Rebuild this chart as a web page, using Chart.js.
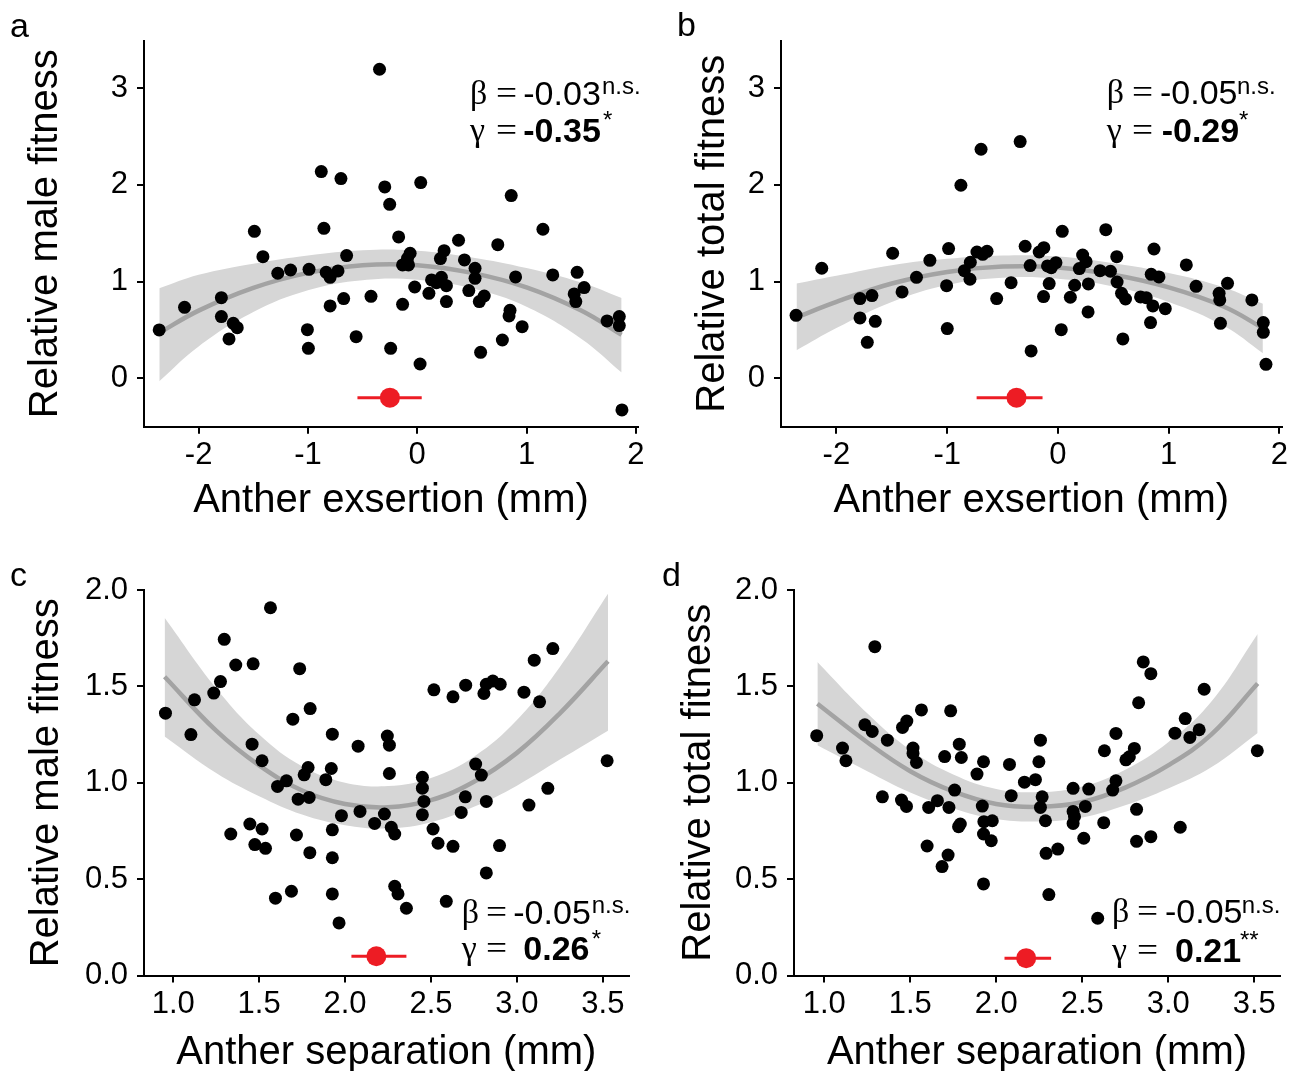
<!DOCTYPE html>
<html>
<head>
<meta charset="utf-8">
<script src="https://cdn.jsdelivr.net/npm/chart.js@4.4.1/dist/chart.umd.min.js"></script>
<style>
  html, body { margin: 0; padding: 0; background: #fff; }
  body { width: 1295px; height: 1071px; overflow: hidden; position: relative; font-family: 'Liberation Sans', Arial, sans-serif; color: #000; }
  canvas { position: absolute; }
  .t { position: absolute; white-space: nowrap; line-height: 1; }
</style>
</head>
<body>
<canvas id="ca"></canvas>
<canvas id="cb"></canvas>
<canvas id="cc"></canvas>
<canvas id="cd"></canvas>
<div id="overlay"></div>
<script>
// ---------------- DATA ----------------
// Panel a: anther exsertion vs relative male fitness
const aX = [-0.345,-0.878,-0.698,-0.297,0.032,-0.252,0.860,-0.854,1.150,-1.490,
  -0.170,0.378,0.737,-1.412,-0.646,-0.065,-0.089,-0.134,-0.080,0.246,
  0.212,0.432,-1.276,-1.159,-0.990,-0.833,-0.797,-0.725,0.529,0.529,
  0.900,1.240,1.463,0.131,0.221,0.176,0.267,-0.023,0.107,0.472,
  0.613,0.568,0.267,1.527,1.436,1.451,-1.792,-2.129,-0.673,-0.423,
  -0.797,-0.134,-1.792,-1.683,-1.647,-2.361,-1.722,-1.005,-0.996,-0.559,
  -0.243,0.026,0.849,0.840,0.960,0.779,0.580,1.737,1.849,1.849,1.873];
const aY = [3.195,2.137,2.065,1.979,2.023,1.799,1.889,1.551,1.541,1.520,
  1.462,1.427,1.382,1.258,1.269,1.293,1.241,1.172,1.172,1.320,
  1.238,1.224,1.086,1.120,1.127,1.096,1.044,1.110,1.138,1.034,
  1.048,1.069,1.096,1.017,1.044,0.989,0.958,0.944,0.879,0.907,
  0.851,0.793,0.793,0.938,0.872,0.793,0.834,0.734,0.824,0.848,
  0.748,0.765,0.638,0.569,0.524,0.500,0.407,0.503,0.310,0.431,
  0.310,0.148,0.703,0.645,0.534,0.396,0.269,0.593,0.638,0.545,-0.327];
const aFitX  = [-2.36,-2.0,-1.5,-1.0,-0.5,0.0,0.5,1.0,1.5,1.87];
const aFit   = [0.47,0.70,0.935,1.09,1.17,1.17,1.09,0.94,0.70,0.45];
const aUpper = [0.93,1.07,1.185,1.27,1.325,1.32,1.25,1.14,0.99,0.83];
const aLower = [-0.03,0.33,0.685,0.91,1.015,1.02,0.93,0.74,0.41,0.06];
const aOpt = [-0.25, -0.547, 0.041, -0.2];   // optimum, CI low, CI high, drawn at y
const aXTicks = [-2,-1,0,1,2], aXTickLabels = ['-2','-1','0','1','2'];
const aYTicks = [0,1,2,3],     aYTickLabels = ['0','1','2','3'];

// Panel b: anther exsertion vs relative total fitness
const bX = [-0.341,-0.694,-0.876,0.039,0.432,-2.132,-1.492,-0.987,-0.731,-0.640,
  -0.679,-0.296,-0.169,-0.127,0.867,0.531,1.159,-1.156,-0.791,-0.845,
  -0.251,-0.094,-0.018,-0.060,0.223,0.254,0.193,0.380,0.474,-1.277,
  -0.794,-1.005,-0.423,-0.079,0.151,0.275,0.534,0.842,0.912,1.247,
  1.531,1.455,1.461,1.751,-1.407,-1.679,-1.787,-2.364,-1.787,-1.649,
  -1.721,-0.553,-0.130,0.112,0.574,0.610,0.746,0.797,0.857,0.969,
  0.272,-0.999,0.030,0.586,0.836,1.467,-0.242,1.854,1.854,1.878];
const bY = [2.447,2.368,1.996,1.520,1.537,1.138,1.293,1.341,1.306,1.313,
  1.282,1.365,1.306,1.351,1.337,1.258,1.172,1.220,1.200,1.113,
  1.165,1.162,1.196,1.144,1.275,1.206,1.134,1.113,1.107,1.044,
  1.024,0.958,0.989,0.979,0.962,0.976,0.996,1.075,1.048,0.951,
  0.982,0.879,0.810,0.810,0.893,0.855,0.824,0.651,0.624,0.589,
  0.372,0.824,0.845,0.838,0.879,0.820,0.841,0.834,0.748,0.720,
  0.686,0.514,0.503,0.407,0.576,0.569,0.283,0.576,0.476,0.145];
const bFitX  = [-2.36,-2.0,-1.5,-1.0,-0.5,0.0,0.5,1.0,1.5,1.85];
const bFit   = [0.63,0.79,0.98,1.10,1.155,1.145,1.07,0.94,0.74,0.52];
const bUpper = [0.98,1.06,1.17,1.235,1.27,1.26,1.19,1.09,0.94,0.77];
const bLower = [0.29,0.52,0.79,0.965,1.04,1.03,0.95,0.79,0.54,0.26];
const bOpt = [-0.374, -0.734, -0.139, -0.2];
const bXTicks = [-2,-1,0,1,2], bXTickLabels = ['-2','-1','0','1','2'];
const bYTicks = [0,1,2,3],     bYTickLabels = ['0','1','2','3'];

// Panel c: anther separation vs relative male fitness
const cX = [1.566,1.297,1.364,1.465,1.736,1.275,1.236,1.124,0.955,1.103,
  1.696,1.797,1.926,2.076,2.246,2.258,1.459,1.517,1.785,1.762,
  1.920,1.888,2.258,1.659,1.607,1.727,1.791,1.979,2.087,2.172,
  2.229,2.269,2.289,2.450,2.450,2.459,2.450,2.512,2.541,2.628,
  2.676,2.700,2.760,2.793,2.822,2.899,2.822,3.070,3.180,3.525,
  2.517,2.628,2.702,2.808,2.822,2.860,2.903,3.041,3.132,3.101,
  3.209,1.446,1.517,1.335,1.475,1.537,1.717,1.926,1.795,1.926,
  1.595,1.688,1.926,1.965,2.289,2.308,2.357,2.589];
const cY = [1.908,1.744,1.611,1.617,1.592,1.525,1.465,1.430,1.361,1.250,
  1.330,1.385,1.252,1.190,1.242,1.195,1.200,1.114,1.079,1.041,
  1.074,1.016,1.048,1.010,0.981,0.915,0.924,0.829,0.851,0.789,
  0.838,0.769,0.734,1.028,0.972,0.903,0.834,0.760,0.686,0.670,
  0.846,0.927,1.097,1.040,0.903,0.674,0.532,0.884,0.971,1.114,
  1.482,1.446,1.506,1.463,1.511,1.528,1.511,1.470,1.420,1.636,
  1.696,0.786,0.760,0.734,0.679,0.660,0.729,0.756,0.637,0.611,
  0.401,0.437,0.423,0.273,0.463,0.423,0.349,0.385];
const cFitX  = [0.95,1.25,1.5,1.75,2.0,2.25,2.5,2.75,3.0,3.25,3.53];
const cFit   = [1.55,1.27,1.09,0.96,0.89,0.873,0.91,1.005,1.155,1.36,1.63];
const cUpper = [1.856,1.49,1.25,1.085,1.0,0.983,1.025,1.135,1.325,1.60,1.98];
const cLower = [1.24,1.05,0.93,0.835,0.78,0.763,0.795,0.875,0.985,1.12,1.27];
const cOpt = [2.182, 2.037, 2.357, 0.10];
const cXTicks = [1.0,1.5,2.0,2.5,3.0,3.5], cXTickLabels = ['1.0','1.5','2.0','2.5','3.0','3.5'];
const cYTicks = [0,0.5,1.0,1.5,2.0],       cYTickLabels = ['0.0','0.5','1.0','1.5','2.0'];

// Panel d: anther separation vs relative total fitness
const dX = [1.294,2.855,2.899,3.209,2.828,1.565,1.735,1.480,1.455,1.236,
  1.279,0.956,1.367,2.257,2.696,3.039,3.099,3.180,3.126,3.518,
  1.106,1.126,1.516,1.516,1.536,1.700,1.785,1.797,1.926,1.888,
  2.077,2.248,2.629,2.803,2.774,2.754,2.164,2.228,2.696,2.677,
  1.758,1.338,1.449,1.478,1.658,1.607,1.725,1.919,2.087,2.267,
  2.257,2.447,2.538,2.518,2.447,2.455,2.447,2.816,2.286,2.625,
  1.928,1.977,1.791,1.781,1.926,1.971,2.509,3.070,2.816,2.899,
  1.598,1.720,1.685,2.290,2.358,1.926,2.306,2.590];
const dY = [1.706,1.627,1.566,1.485,1.415,1.378,1.373,1.320,1.287,1.301,
  1.266,1.244,1.221,1.221,1.256,1.257,1.333,1.275,1.235,1.166,
  1.180,1.114,1.180,1.152,1.105,1.136,1.200,1.131,1.109,1.045,
  1.095,1.109,1.166,1.178,1.135,1.119,1.003,1.016,1.010,0.962,
  0.962,0.927,0.910,0.877,0.907,0.872,0.872,0.879,0.933,0.927,
  0.872,0.971,0.967,0.877,0.851,0.824,0.789,0.862,0.803,0.793,
  0.798,0.803,0.786,0.772,0.734,0.699,0.712,0.769,0.696,0.720,
  0.672,0.625,0.565,0.634,0.656,0.475,0.420,0.297];
const dFitX  = [0.96,1.25,1.5,1.75,2.0,2.25,2.5,2.75,3.0,3.25,3.52];
const dFit   = [1.41,1.21,1.06,0.955,0.89,0.875,0.90,0.975,1.09,1.25,1.515];
const dUpper = [1.626,1.36,1.17,1.043,0.968,0.951,0.98,1.067,1.21,1.42,1.772];
const dLower = [1.194,1.06,0.95,0.867,0.812,0.799,0.82,0.883,0.97,1.08,1.258];
const dOpt = [2.174, 2.048, 2.319, 0.09];
const dXTicks = [1.0,1.5,2.0,2.5,3.0,3.5], dXTickLabels = ['1.0','1.5','2.0','2.5','3.0','3.5'];
const dYTicks = [0,0.5,1.0,1.5,2.0],       dYTickLabels = ['0.0','0.5','1.0','1.5','2.0'];

// Texts
const panelLetters = ['a','b','c','d'];
const xTitles = ['Anther exsertion (mm)','Anther exsertion (mm)','Anther separation (mm)','Anther separation (mm)'];
const yTitles = ['Relative male fitness','Relative total fitness','Relative male fitness','Relative total fitness'];
const betaVals  = ['-0.03','-0.05','-0.05','-0.05'];
const betaSig   = ['n.s.','n.s.','n.s.','n.s.'];
const gammaVals = ['-0.35','-0.29','0.26','0.21'];
const gammaSig  = ['*','*','*','**'];

// ---------------- STYLE / LAYOUT ----------------
const FONT = "'Liberation Sans', Arial, sans-serif";
const BAND = '#d6d6d6', CURVE = '#a3a3a3', RED = '#ed1c24';
const TICK_SIZE = 31;

const panels = [
  {id:'ca', left:0,   top:0,   w:648, h:540, area:{l:144, t:40.7, r:644.6, b:426.7}, xr:[-2.5,2.02], yr:[-0.5,3.49],
   X:aX, Y:aY, fx:aFitX, fit:aFit, up:aUpper, lo:aLower, opt:aOpt, xt:aXTicks, xtl:aXTickLabels, yt:aYTicks, ytl:aYTickLabels,
   yTitlePad:26, xTitlePad:19, xTickPad:3},
  {id:'cb', left:648, top:0,   w:647, h:540, area:{l:133, t:40.7, r:633.7, b:426.7}, xr:[-2.5,2.02], yr:[-0.5,3.49],
   X:bX, Y:bY, fx:bFitX, fit:bFit, up:bUpper, lo:bLower, opt:bOpt, xt:bXTicks, xtl:bXTickLabels, yt:bYTicks, ytl:bYTickLabels,
   yTitlePad:45, xTitlePad:19, xTickPad:3},
  {id:'cc', left:0,   top:540, w:648, h:560, area:{l:144, t:50, r:628.6, b:435.5}, xr:[0.83,3.65], yr:[0,2.0],
   X:cX, Y:cY, fx:cFitX, fit:cFit, up:cUpper, lo:cLower, opt:cOpt, xt:cXTicks, xtl:cXTickLabels, yt:cYTicks, ytl:cYTickLabels,
   yTitlePad:27, xTitlePad:27, xTickPad:3.6},
  {id:'cd', left:648, top:540, w:647, h:560, area:{l:146, t:50, r:632, b:435.5}, xr:[0.824,3.65], yr:[0,2.0],
   X:dX, Y:dY, fx:dFitX, fit:dFit, up:dUpper, lo:dLower, opt:dOpt, xt:dXTicks, xtl:dXTickLabels, yt:dYTicks, ytl:dYTickLabels,
   yTitlePad:31, xTitlePad:27, xTickPad:3.6}
];

function zip(xs, ys) { return xs.map((x, i) => ({x: x, y: ys[i]})); }

panels.forEach((p, k) => {
  const cv = document.getElementById(p.id);
  cv.width = p.w; cv.height = p.h;
  cv.style.left = p.left + 'px'; cv.style.top = p.top + 'px';
  cv.style.width = p.w + 'px'; cv.style.height = p.h + 'px';
  const gridOpts = {display: true, drawOnChartArea: false, drawTicks: true, tickLength: 7, color: '#000', lineWidth: 2};
  const borderOpts = {display: true, color: '#000', width: 2};
  new Chart(cv, {
    type: 'scatter',
    data: {datasets: [
      {type: 'line', data: zip(p.fx, p.up), fill: '+1', backgroundColor: BAND, borderColor: 'rgba(0,0,0,0)', borderWidth: 0, pointRadius: 0, tension: 0.4, order: 5},
      {type: 'line', data: zip(p.fx, p.lo), fill: false, borderColor: 'rgba(0,0,0,0)', borderWidth: 0, pointRadius: 0, tension: 0.4, order: 5},
      {type: 'line', data: zip(p.fx, p.fit), fill: false, borderColor: CURVE, borderWidth: 4.5, pointRadius: 0, tension: 0.4, order: 4},
      {type: 'scatter', data: zip(p.X, p.Y), backgroundColor: '#000', borderWidth: 0, pointRadius: 6.5, order: 2},
      {type: 'line', data: [{x: p.opt[1], y: p.opt[3]}, {x: p.opt[2], y: p.opt[3]}], fill: false, borderColor: RED, borderWidth: 3, pointRadius: 0, order: 1},
      {type: 'scatter', data: [{x: p.opt[0], y: p.opt[3]}], backgroundColor: RED, borderWidth: 0, pointRadius: 10, order: 0}
    ]},
    options: {
      responsive: false, animation: false, devicePixelRatio: 1,
      layout: {padding: {left: 0, top: p.area.t, right: p.w - p.area.r, bottom: 0}},
      plugins: {legend: {display: false}, tooltip: {enabled: false}},
      scales: {
        x: {
          type: 'linear', min: p.xr[0], max: p.xr[1],
          afterBuildTicks: s => { s.ticks = p.xt.map(v => ({value: v})); },
          afterFit: s => { s.height = p.h - p.area.b; s.paddingLeft = 0; s.paddingRight = 0; },
          ticks: {autoSkip: false, maxRotation: 0, padding: p.xTickPad, color: '#000', font: {family: FONT, size: TICK_SIZE},
                  callback: v => p.xtl[p.xt.indexOf(v)]},
          grid: gridOpts, border: borderOpts,
          title: {display: true, text: xTitles[k], color: '#000', font: {family: FONT, size: 40, lineHeight: 1}, padding: {top: 0, bottom: p.xTitlePad}}
        },
        y: {
          type: 'linear', min: p.yr[0], max: p.yr[1],
          afterBuildTicks: s => { s.ticks = p.yt.map(v => ({value: v})); },
          afterFit: s => { s.width = p.area.l; s.paddingTop = 0; s.paddingBottom = 0; },
          ticks: {autoSkip: false, padding: 9, color: '#000', font: {family: FONT, size: TICK_SIZE},
                  callback: v => p.ytl[p.yt.indexOf(v)]},
          grid: gridOpts, border: borderOpts,
          title: {display: true, text: yTitles[k], color: '#000', font: {family: FONT, size: 40, lineHeight: 1}, padding: {top: p.yTitlePad, bottom: 0}}
        }
      }
    }
  });
});

// ---------------- TEXT OVERLAYS ----------------
const ov = document.getElementById('overlay');
function put(html, x, baseline, size, extra) {
  const d = document.createElement('div');
  d.className = 't';
  d.style.fontSize = size + 'px';
  d.style.left = x + 'px';
  d.style.top = (baseline - 0.8465 * size) + 'px';
  if (extra) Object.assign(d.style, extra);
  d.innerHTML = html;
  ov.appendChild(d);
  return d;
}
// panel letters
const letterPos = [[10, 37], [677, 36], [10, 586], [662, 586]];
letterPos.forEach((lp, i) => put(panelLetters[i], lp[0], lp[1], 34));

// stat annotations: [symX, eqX, valX1, supX1, base1, valX2, supX2, base2]
const statPos = [
  [470.0, 495.5, 523.3, 602.0, 104.5, 523.3, 603.0, 141.7],
  [1106.7, 1132.0, 1160.0, 1237.0, 104.0, 1161.7, 1239.0, 141.7],
  [461.7, 485.5, 513.3, 591.7, 923.3, 523.3, 591.7, 960.0],
  [1112.0, 1137.0, 1165.0, 1241.7, 923.0, 1175.0, 1240.0, 961.7]
];
const serif = {fontFamily: "'Liberation Serif', 'DejaVu Serif', serif"};
const eqStyle = Object.assign({transform: 'scaleX(1.1)', transformOrigin: 'left'}, serif);
statPos.forEach((s, i) => {
  put('β', s[0], s[4], 34, serif);
  put('=', s[1], s[4], 34, eqStyle);
  put(betaVals[i], s[2], s[4], 34);
  put(betaSig[i], s[3], s[4] - 10, 24);
  put('γ', s[0], s[7], 34, serif);
  put('=', s[1], s[7], 34, eqStyle);
  put(gammaVals[i], s[5], s[7], 34, {fontWeight: 'bold'});
  put(gammaSig[i], s[6], s[7] - 13, 24);
});
</script>
</body>
</html>
